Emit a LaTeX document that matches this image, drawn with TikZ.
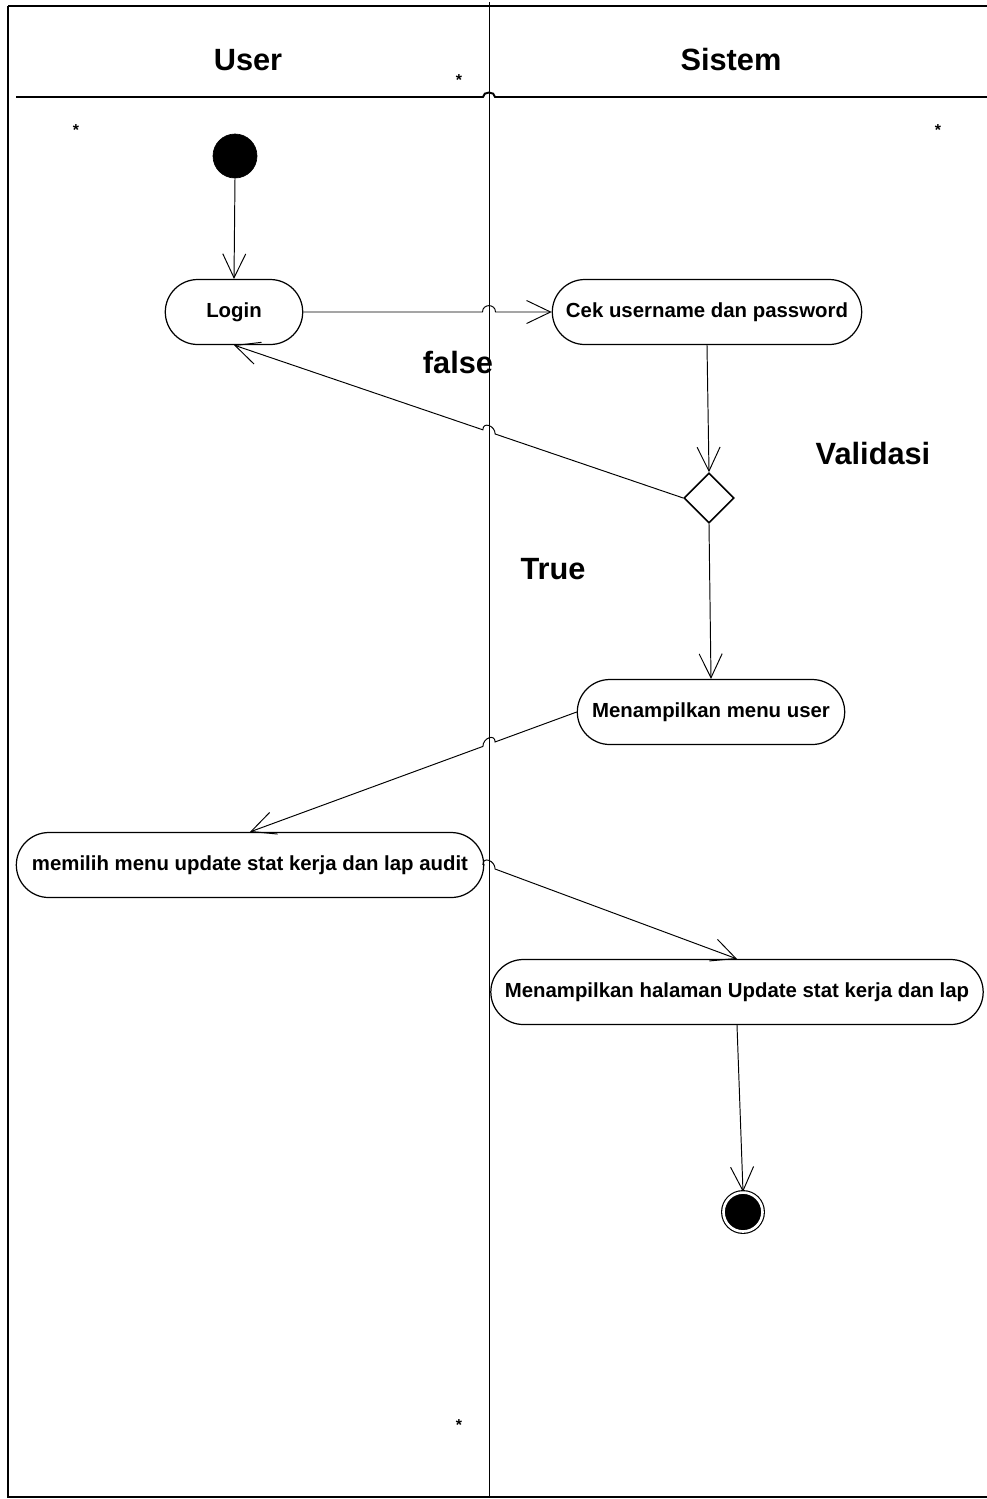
\documentclass[tikz,border=0pt]{standalone}
\usepackage{fontspec}
\setmainfont{Liberation Sans}
\usetikzlibrary{positioning, arrows.meta, shapes.geometric, shapes.misc, calc, intersections}
\tikzset{
    startstyle/.style={circle, fill=black, draw=black, minimum size=0.88cm, inner sep=0pt},
    endstyle/.style={circle, fill=black, draw=black, minimum size=0.78cm, inner sep=0pt, double=white, double distance=1.5pt, line width=0.65pt},
    actstyle/.style={rounded rectangle, draw=black, line width=0.7pt, minimum height=1.3cm, font=\fontsize{11.6}{13}\selectfont\bfseries, inner xsep=3pt},
    gateway/.style={diamond, draw=black, line width=0.9pt, minimum width=1.0cm, minimum height=1.0cm, inner sep=0pt, aspect=1},
    arr/.style={-{Straight Barb[length=0.48cm, width=0.46cm]}, line width=0.55pt},
    frame/.style={line width=1.1pt},
    lanelab/.style={font=\fontsize{17.5}{20}\selectfont\bfseries},
    guardlbl/.style={font=\fontsize{17.5}{20}\selectfont\bfseries},
    starlbl/.style={font=\fontsize{9}{9}\selectfont\bfseries, inner sep=0pt}
}
% connector hopping over the lane divider
\newcommand{\hopto}[2]{%
    \path[name path=hopln] (#1) -- (#2);
    \path[name intersections={of=hopln and lane, by=hx}];
    \path ($(hx)!0.13cm!(#1)$) coordinate (h1) ($(hx)!0.13cm!(#2)$) coordinate (h2);
    \draw[arr] (#1) -- (h1) .. controls ($(h1)+(0,0.17cm)$) and ($(h2)+(0,0.17cm)$) .. (h2) -- (#2);
}

\begin{document}
\begin{tikzpicture}[x=0.02cm, y=-0.02cm]
    \useasboundingbox (0,0) rectangle (987,1499);

    % Swimlanes
    \draw[line width=0.5pt, name path=lane] (489,2) -- (489,1497);
    \draw[frame] (8,6) -- (987,6);
    \draw[frame] (8,6) -- (8,1497) -- (987,1497);
    \draw[frame] (16,97) -- (483,97) .. controls (483,91) and (495,91) .. (495,97) -- (987,97);
    \node[lanelab] (luser) at (248,60) {User};
    \node[lanelab] (lsys) at (731,60) {Sistem};
    \node[starlbl] (s1) at (459,80) {*};
    \node[starlbl] (s2) at (76,130) {*};
    \node[starlbl] (s3) at (938,130) {*};
    \node[starlbl] (s4) at (459,1425) {*};

    % Nodes
    \node[startstyle] (start) at (235,156) {};
    \node[actstyle, minimum width=2.96cm] (login) at (234,312) {Login};
    \node[actstyle, minimum width=6.4cm] (cek) at (707,312) {Cek username dan password};
    \node[gateway] (valid) at (709,498) {};
    \node[actstyle, minimum width=5.56cm] (menu) at (711,712) {Menampilkan menu user};
    \node[actstyle, minimum width=9.56cm] (pilih) at (250,865) {memilih menu update stat kerja dan lap audit};
    \node[actstyle, minimum width=10.06cm] (halaman) at (737,992) {Menampilkan halaman Update stat kerja dan lap};
    \node[endstyle] (finish) at (743,1212) {};

    % Guard labels
    \node[guardlbl] (lfalse) at (458,362) {false};
    \node[guardlbl] (lvalid) at (873,453) {Validasi};
    \node[guardlbl] (ltrue) at (553,569) {True};

    % Flows
    \draw[arr] (start.south) -- (login.north);
    \hopto{login.east}{cek.west}
    \draw[arr] (cek.south) -- (valid.north);
    \hopto{valid.west}{login.south}
    \draw[arr] (valid.south) -- (menu.north);
    \hopto{menu.west}{pilih.north}
    \hopto{pilih.east}{halaman.north}
    \draw[arr] (halaman.south) -- (finish.north);
\end{tikzpicture}
\end{document}
